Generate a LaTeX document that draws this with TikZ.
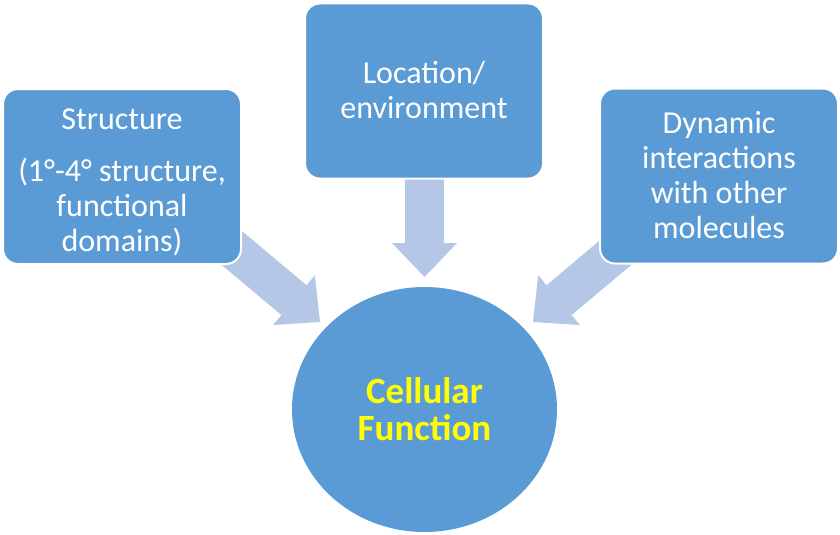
\documentclass[tikz,border=0pt]{standalone}
\usepackage{fontspec}
\setmainfont{Carlito}
\usetikzlibrary{arrows.meta,shapes.geometric}
\definecolor{boxblue}{HTML}{5B9BD5}
\definecolor{arrowblue}{HTML}{B4C7E7}
\definecolor{textyellow}{HTML}{FFFF00}
\begin{document}
\begin{tikzpicture}[x=1pt,y=-1pt,
  box/.style={draw=white, line width=2pt, fill=boxblue, rounded corners=15pt,
    minimum width=238pt, minimum height=175pt, inner sep=0pt},
  boxtext/.style={inner sep=0pt, text=white, align=center,
    font=\fontsize{32}{35}\selectfont},
  hub/.style={ellipse, fill=boxblue, minimum width=265pt, minimum height=245pt,
    inner sep=0pt, text=textyellow, align=center,
    font=\bfseries\fontsize{37}{37}\selectfont},
  blockarrow/.style={draw=arrowblue, line width=39pt,
    -{Triangle[length=34pt,width=65pt,line width=0pt,fill=arrowblue]}}]
\useasboundingbox (0,0) rectangle (840,535);
% connectors (drawn first, tails hidden under boxes)
\coordinate (ltail) at (224.25,241.6);
\coordinate (ltip) at (320,322);
\coordinate (ttail) at (424.5,175);
\coordinate (ttip) at (424.5,277);
\coordinate (rtail) at (628.75,241.6);
\coordinate (rtip) at (533,322);
\draw[blockarrow] (ltail) -- (ltip);
\draw[blockarrow] (ttail) -- (ttip);
\draw[blockarrow] (rtail) -- (rtip);
% boxes
\node[box] (struct) at (122,176.5) {};
\node[boxtext] (structtext) at ([yshift=-6pt]struct.center)
  {Structure\\[17pt](1°-4° structure,\\functional\\domains)};
\node[box] (loc) at (424,91) {};
\node[boxtext] (loctext) at ([yshift=1pt]loc.center) {Location/\\environment};
\node[box] (dyn) at (719,176) {};
\node[boxtext] (dyntext) at ([yshift=1pt]dyn.center) {Dynamic\\interactions\\with other\\molecules};
% hub
\node[hub] (func) at (424.5,409.5) {Cellular\\Function};
\end{tikzpicture}
\end{document}
